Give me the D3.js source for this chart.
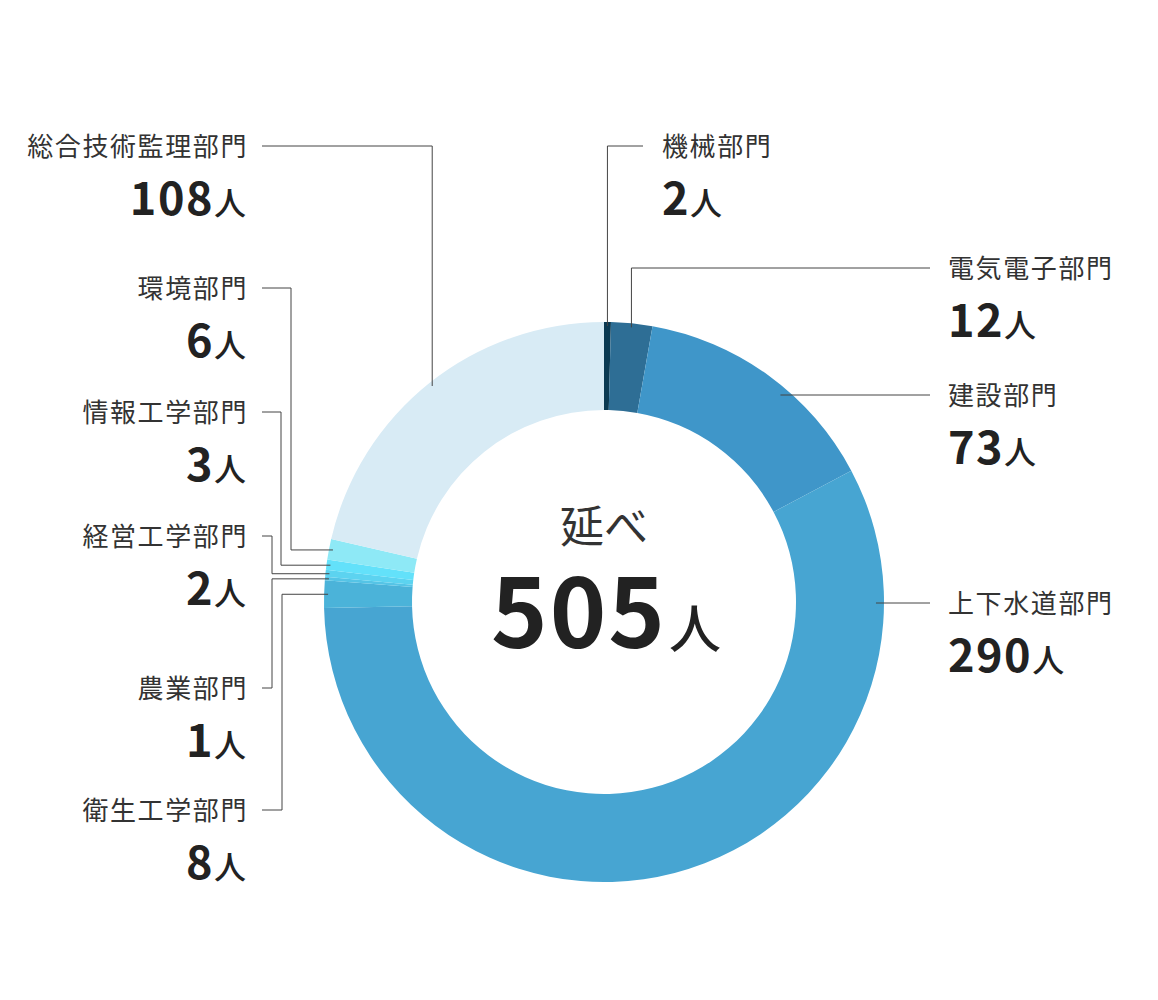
<!DOCTYPE html>
<html lang="ja">
<head>
<meta charset="utf-8">
<script src="https://cdn.jsdelivr.net/npm/d3@7"></script>
<style>
  body { margin: 0; background: #fff; }
  svg { display: block; font-family: "Noto Sans CJK JP", "Noto Sans", sans-serif; }
</style>
</head>
<body>
<div id="chart"></div>
<script>
        //data, clockwise from 12 o'clock
        var categories = ["機械部門", "電気電子部門", "建設部門", "上下水道部門", "衛生工学部門",
                          "農業部門", "経営工学部門", "情報工学部門", "環境部門", "総合技術監理部門"];
        var values = [2, 12, 73, 290, 8, 1, 2, 3, 6, 108];
        var colors = ["#0b3a52", "#2e6e95", "#3f96c9", "#47a5d2", "#4bb3d9",
                      "#55c4e6", "#5cd3f0", "#63e1fa", "#8ee9f6", "#d8ebf5"];
        var totalCaption = "延べ";
        var unit = "人";

        //label placement (layout only)
        var labelLayout = [
            {side: "top",   x: 662, y: 146, line: "down",  from: 643},
            {side: "right", x: 948, y: 268, line: "down",  from: 930},
            {side: "right", x: 948, y: 395, line: "flat",  from: 930},
            {side: "right", x: 948, y: 603, line: "flat",  from: 930},
            {side: "left",  x: 246, y: 810, line: "elbow", from: 262, elbow: 282},
            {side: "left",  x: 246, y: 688, line: "elbow", from: 262, elbow: 272},
            {side: "left",  x: 246, y: 536, line: "elbow", from: 262, elbow: 272},
            {side: "left",  x: 246, y: 412, line: "elbow", from: 262, elbow: 281},
            {side: "left",  x: 246, y: 288, line: "elbow", from: 262, elbow: 291},
            {side: "left",  x: 246, y: 146, line: "down",  from: 262}
        ];

        var width = 1158, height = 1000;
        var cx = 604, cy = 602;
        var outerR = 280, innerR = 192, leaderR = 276, hitR = 272;

        var svg = d3.select("#chart").append("svg")
            .attr("width", width)
            .attr("height", height);

        var g = svg.append("g")
            .attr("transform", "translate(" + cx + "," + cy + ")");

        var pie = d3.pie().sort(null).value(function(d) { return d; });
        var arcs = pie(values);

        var arc = d3.arc().innerRadius(innerR).outerRadius(outerR);
        var leaderArc = d3.arc().innerRadius(leaderR).outerRadius(leaderR);

        g.selectAll("path.slice")
            .data(arcs)
            .enter()
            .append("path")
            .attr("class", "slice")
            .attr("d", arc)
            .attr("fill", function(d, i) { return colors[i]; });

        //leader lines
        svg.selectAll("path.leader")
            .data(arcs)
            .enter()
            .append("path")
            .attr("class", "leader")
            .attr("fill", "none")
            .attr("stroke", "#444")
            .attr("stroke-width", 1)
            .attr("d", function(d, i) {
                var L = labelLayout[i];
                var c = leaderArc.centroid(d);
                var px = cx + c[0], py = cy + c[1];
                if (L.line == "down") {
                    return "M" + L.from + "," + L.y + "H" + px + "V" + py;
                }
                if (L.line == "flat") {
                    var dy = L.y - cy;
                    var hx = cx + Math.sqrt(hitR * hitR - dy * dy);
                    return "M" + L.from + "," + L.y + "H" + hx;
                }
                return "M" + L.from + "," + L.y + "H" + L.elbow + "V" + py + "H" + px;
            });

        //labels
        var labels = svg.selectAll("g.label")
            .data(categories)
            .enter()
            .append("g")
            .attr("class", "label");

        labels.append("text")
            .attr("x", function(d, i) { return labelLayout[i].side == "left" ? labelLayout[i].x + 2 : labelLayout[i].x; })
            .attr("y", function(d, i) { return labelLayout[i].y + 10; })
            .attr("text-anchor", function(d, i) { return labelLayout[i].side == "left" ? "end" : "start"; })
            .attr("font-size", 26)
            .attr("letter-spacing", 1.6)
            .attr("fill", "#333")
            .text(function(d) { return d; });

        var nums = labels.append("text")
            .attr("x", function(d, i) { return labelLayout[i].x; })
            .attr("y", function(d, i) { return labelLayout[i].y + 69; })
            .attr("text-anchor", function(d, i) { return labelLayout[i].side == "left" ? "end" : "start"; })
            .attr("fill", "#222");

        nums.append("tspan")
            .attr("font-size", 45)
            .attr("font-weight", 700)
            .attr("letter-spacing", 1.5)
            .text(function(d, i) { return values[i]; });

        nums.append("tspan")
            .attr("font-size", 32)
            .attr("font-weight", 500)
            .text(unit);

        //center total
        svg.append("text")
            .attr("x", cx)
            .attr("y", 543)
            .attr("text-anchor", "middle")
            .attr("font-size", 44)
            .attr("fill", "#333")
            .text(totalCaption);

        var total = svg.append("text")
            .attr("x", cx + 2)
            .attr("y", 648)
            .attr("text-anchor", "middle")
            .attr("fill", "#222");

        total.append("tspan")
            .attr("font-size", 96)
            .attr("font-weight", 700)
            .attr("letter-spacing", 2)
            .text(d3.sum(values));

        total.append("tspan")
            .attr("font-size", 52)
            .attr("font-weight", 500)
            .attr("dx", 2)
            .text(unit);
</script>
</body>
</html>
